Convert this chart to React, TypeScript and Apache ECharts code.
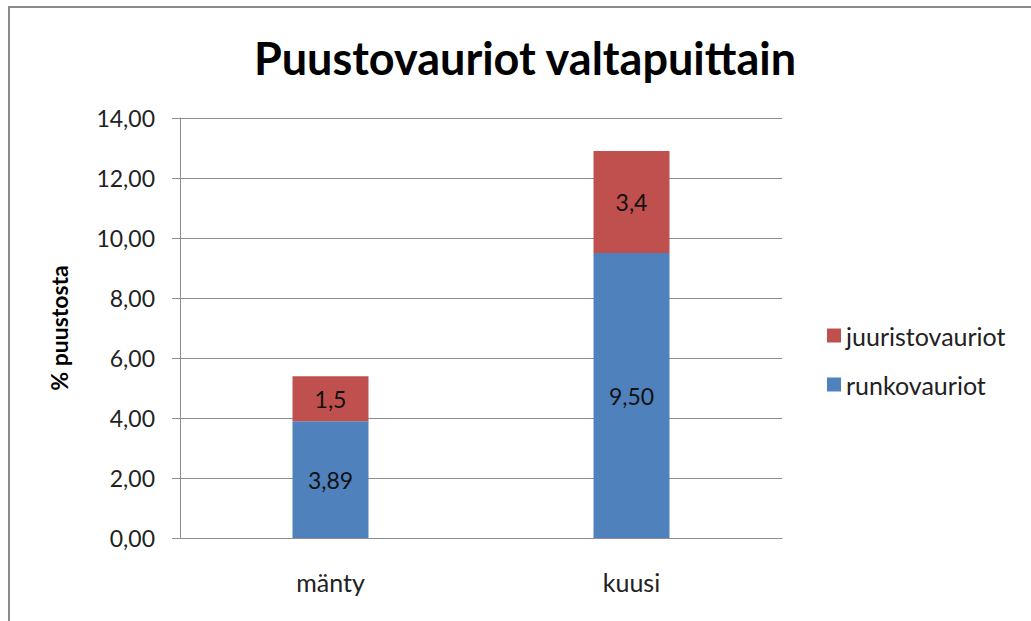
import React, { useEffect, useRef } from "react";
import * as echarts from "echarts";

const categories = ["mänty", "kuusi"];
const runkovauriot = [3.89, 9.5];
const juuristovauriot = [1.5, 3.4];
const runkoLabels = ["3,89", "9,50"];
const juuristoLabels = ["1,5", "3,4"];
const titleText = "Puustovauriot valtapuittain";
const yAxisName = "% puustosta";

const FONT = "Lato, 'Open Sans', sans-serif";

export default function App() {
  const ref = useRef<HTMLDivElement>(null);
  useEffect(() => {
    if (!ref.current) return;
    const chart = echarts.init(ref.current, null, { renderer: "svg" });
    chart.setOption({
      animation: false,
      backgroundColor: "#ffffff",
      title: {
        text: titleText,
        left: 520,
        textAlign: "center",
        top: 30,
        textStyle: { fontFamily: FONT, fontWeight: "bold", fontSize: 45, color: "#000" },
      },
      legend: {
        orient: "vertical",
        left: 822,
        top: 318,
        itemWidth: 14,
        itemHeight: 14,
        itemGap: 24,
        icon: "rect",
        data: ["juuristovauriot", "runkovauriot"],
        textStyle: { fontFamily: FONT, fontSize: 25, color: "#222" },
      },
      grid: { left: 180, right: 249, top: 118, bottom: 83 },
      xAxis: {
        type: "category",
        data: categories,
        axisLine: { lineStyle: { color: "#8c8c8c", width: 1 } },
        axisTick: { show: false },
        axisLabel: { fontFamily: FONT, fontSize: 25, color: "#222", margin: 31 },
      },
      yAxis: {
        type: "value",
        min: 0,
        max: 14,
        interval: 2,
        name: yAxisName,
        nameLocation: "middle",
        nameRotate: 90,
        nameGap: 110,
        nameTextStyle: { fontFamily: FONT, fontWeight: "bold", fontSize: 23, color: "#000" },
        axisLine: { show: true, lineStyle: { color: "#8c8c8c", width: 1 } },
        axisTick: { show: true, length: 8, lineStyle: { color: "#8c8c8c" } },
        splitLine: { lineStyle: { color: "#8c8c8c", width: 1 } },
        axisLabel: {
          fontFamily: FONT,
          fontSize: 23,
          color: "#222",
          margin: 25,
          formatter: (v: number) => v.toFixed(2).replace(".", ","),
        },
      },
      series: [
        {
          name: "runkovauriot",
          type: "bar",
          stack: "a",
          barWidth: 76,
          data: runkovauriot,
          itemStyle: { color: "#4F81BD" },
          label: {
            show: true,
            position: "inside",
            fontFamily: FONT,
            fontSize: 23,
            color: "#111",
            formatter: (p: any) => runkoLabels[p.dataIndex],
          },
        },
        {
          name: "juuristovauriot",
          type: "bar",
          stack: "a",
          barWidth: 76,
          data: juuristovauriot,
          itemStyle: { color: "#C0504D" },
          label: {
            show: true,
            position: "inside",
            fontFamily: FONT,
            fontSize: 23,
            color: "#111",
            formatter: (p: any) => juuristoLabels[p.dataIndex],
          },
        },
      ],
      graphic: [
        { type: "line", shape: { x1: 9, y1: 7, x2: 1031, y2: 7 }, style: { stroke: "#8a8a8a", lineWidth: 2 } },
        { type: "line", shape: { x1: 9, y1: 6, x2: 9, y2: 621 }, style: { stroke: "#8a8a8a", lineWidth: 2 } },
      ],
    });
    return () => chart.dispose();
  }, []);
  return (
    <div
      ref={ref}
      style={{ position: "fixed", left: 0, top: 0, width: 1031, height: 621 }}
    />
  );
}
